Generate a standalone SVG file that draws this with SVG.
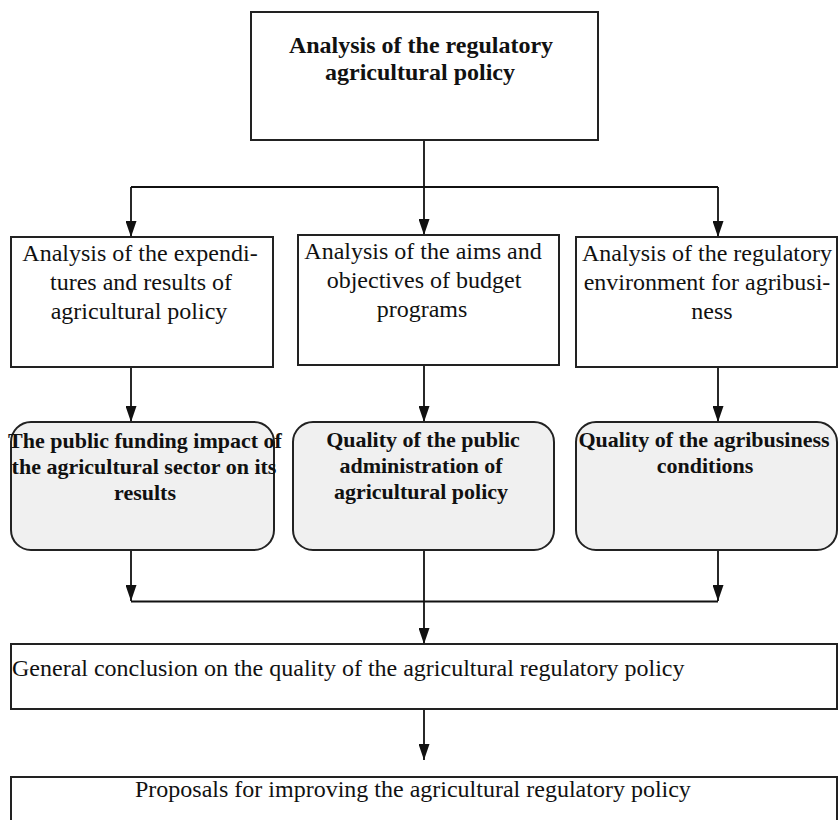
<svg xmlns="http://www.w3.org/2000/svg" width="839" height="820" viewBox="0 0 839 820">
<defs>
<style>
.box{fill:#ffffff;stroke:#222;stroke-width:2}
.rbox{fill:#f0f0f0;stroke:#222;stroke-width:2}
.t{font-family:"Liberation Serif","Times New Roman",serif;font-size:24px;fill:#111}
.tb{font-family:"Liberation Serif","Times New Roman",serif;font-size:24px;font-weight:bold;fill:#111}
.tb2{font-family:"Liberation Serif","Times New Roman",serif;font-size:22px;font-weight:bold;fill:#111}
.c{text-anchor:middle}
.ln{fill:none;stroke:#111;stroke-width:1.8}
</style>
<marker id="arr" viewBox="0 0 16 11" markerWidth="16" markerHeight="11" refX="16" refY="5.5" orient="auto" markerUnits="userSpaceOnUse">
<path d="M0,0 L16,5.5 L0,11 z" fill="#111"/>
</marker>
</defs>
<rect width="839" height="820" fill="#ffffff"/>

<g id="connectors">
<line class="ln" x1="424" y1="140" x2="424" y2="235" marker-end="url(#arr)"/>
<line class="ln" x1="131" y1="187" x2="718" y2="187"/>
<line class="ln" x1="131" y1="187" x2="131" y2="237" marker-end="url(#arr)"/>
<line class="ln" x1="718" y1="187" x2="718" y2="237" marker-end="url(#arr)"/>
<line class="ln" x1="131" y1="367" x2="131" y2="422" marker-end="url(#arr)"/>
<line class="ln" x1="424" y1="365" x2="424" y2="422" marker-end="url(#arr)"/>
<line class="ln" x1="718" y1="367" x2="718" y2="422" marker-end="url(#arr)"/>
<line class="ln" x1="131" y1="550" x2="131" y2="601" marker-end="url(#arr)"/>
<line class="ln" x1="718" y1="550" x2="718" y2="601" marker-end="url(#arr)"/>
<line class="ln" x1="131" y1="601.5" x2="718" y2="601.5"/>
<line class="ln" x1="424" y1="550" x2="424" y2="644" marker-end="url(#arr)"/>
<line class="ln" x1="424" y1="709" x2="424" y2="760" marker-end="url(#arr)"/>
</g>

<g id="top">
<rect class="box" x="251" y="12" width="347" height="128"/>
<text class="tb c" x="421" y="53">Analysis of the regulatory</text>
<text class="tb c" x="420" y="80">agricultural policy</text>
</g>

<g id="expenditures">
<rect class="box" x="11" y="237" width="262" height="130"/>
<text class="t c" x="140" y="261">Analysis of the expendi-</text>
<text class="t c" x="141" y="290">tures and results of</text>
<text class="t c" x="139" y="319">agricultural policy</text>
</g>

<g id="aims">
<rect class="box" x="298" y="235" width="261" height="130"/>
<text class="t c" x="423" y="259">Analysis of the aims and</text>
<text class="t c" x="424" y="288">objectives of budget</text>
<text class="t c" x="422" y="317">programs</text>
</g>

<g id="environment">
<rect class="box" x="576" y="237" width="261" height="130"/>
<text class="t c" x="707" y="261">Analysis of the regulatory</text>
<text class="t c" x="707" y="290">environment for agribusi-</text>
<text class="t c" x="712" y="319">ness</text>
</g>

<g id="funding">
<rect class="rbox" x="11" y="422" width="263" height="128" rx="20" ry="20"/>
<text class="tb2 c" x="145" y="448">The public funding impact of</text>
<text class="tb2 c" x="144" y="474">the agricultural sector on its</text>
<text class="tb2 c" x="145" y="500">results</text>
</g>

<g id="administration">
<rect class="rbox" x="293" y="422" width="261" height="128" rx="20" ry="20"/>
<text class="tb2 c" x="423" y="447">Quality of the public</text>
<text class="tb2 c" x="421" y="473">administration of</text>
<text class="tb2 c" x="421" y="499">agricultural policy</text>
</g>

<g id="conditions">
<rect class="rbox" x="576" y="422" width="261" height="128" rx="20" ry="20"/>
<text class="tb2 c" x="704" y="447">Quality of the agribusiness</text>
<text class="tb2 c" x="705" y="473">conditions</text>
</g>

<g id="conclusion">
<rect class="box" x="11" y="644" width="826" height="65"/>
<text class="t" x="12" y="676">General conclusion on the quality of the agricultural regulatory policy</text>
</g>

<g id="proposals">
<rect class="box" x="11" y="777" width="826" height="60"/>
<text class="t" x="135" y="797">Proposals for improving the agricultural regulatory policy</text>
</g>
</svg>
